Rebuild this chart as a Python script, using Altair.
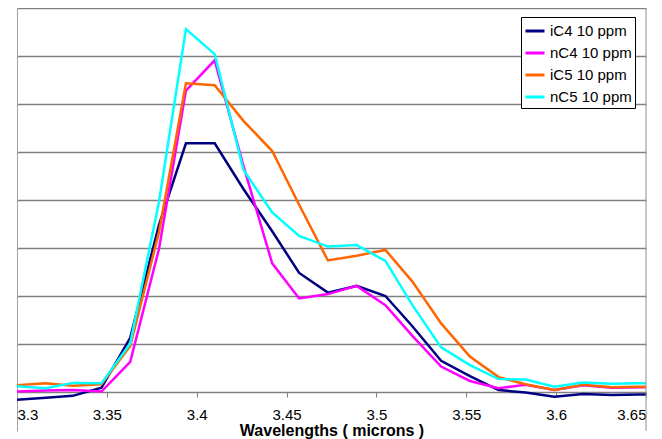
import altair as alt
import pandas as pd

wavelength = [3.300, 3.316, 3.331, 3.347, 3.363, 3.379, 3.394, 3.410, 3.426, 3.442,
              3.457, 3.473, 3.489, 3.505, 3.520, 3.536, 3.552, 3.568, 3.583, 3.599,
              3.615, 3.631, 3.646, 3.662]
ic4 = [-0.16, -0.12, -0.08, 0.09, 1.13, 3.48, 5.18, 5.18, 4.23, 3.35, 2.48, 2.07,
       2.21, 2.00, 1.37, 0.65, 0.33, 0.04, -0.01, -0.10, -0.04, -0.06, -0.05, -0.05]
nc4 = [0.01, 0.03, 0.04, 0.01, 0.63, 2.98, 6.28, 6.91, 4.71, 2.68, 1.95, 2.04,
       2.21, 1.81, 1.17, 0.53, 0.23, 0.08, 0.15, 0.04, 0.14, 0.09, 0.10, 0.10]
ic5 = [0.14, 0.18, 0.13, 0.16, 0.96, 3.33, 6.43, 6.39, 5.65, 5.02, 3.90, 2.74,
       2.84, 2.96, 2.30, 1.43, 0.74, 0.31, 0.16, 0.04, 0.15, 0.10, 0.11, 0.11]
nc5 = [0.12, 0.08, 0.19, 0.18, 1.01, 3.96, 7.56, 7.04, 4.63, 3.74, 3.25, 3.03,
       3.06, 2.73, 1.81, 0.93, 0.56, 0.27, 0.26, 0.11, 0.20, 0.17, 0.18, 0.18]

series_names = ["iC4 10 ppm", "nC4 10 ppm", "iC5 10 ppm", "nC5 10 ppm"]
series_colors = ["#000080", "#FF00FF", "#FF6600", "#00FFFF"]
x_ticks = [3.3, 3.35, 3.4, 3.45, 3.5, 3.55, 3.6, 3.65]
y_grid = [1, 2, 3, 4, 5, 6, 7, 8]

rows = []
for k, (name, vals) in enumerate(zip(series_names, [ic4, nc4, ic5, nc5])):
    for i, (w, v) in enumerate(zip(wavelength, vals)):
        rows.append({"series": name, "order": k, "wl": w, "val": v, "idx": i})
df = pd.DataFrame(rows)

W, H = 629, 423
FONT = "Liberation Sans"

xscale = alt.Scale(domain=[3.3, 3.65], nice=False, zero=False)
yscale = alt.Scale(domain=[-0.8125, 8], nice=False, zero=False)

lines = alt.Chart(df).mark_line(strokeWidth=2.5, clip=True).encode(
    x=alt.X("wl:Q", scale=xscale,
            axis=alt.Axis(values=x_ticks, format=".2~f", offset=-39,
                          domainColor="#808080", domainWidth=1.5,
                          tickColor="#808080", tickSize=5, tickWidth=1,
                          labelFont=FONT, labelFontSize=15, labelColor="black",
                          labelPadding=10, grid=False,
                          title="Wavelengths ( microns )", titleFont=FONT,
                          titleFontSize=16, titleFontWeight="bold",
                          titleColor="black", titleY=43,
                          titleBaseline="alphabetic")),
    y=alt.Y("val:Q", scale=yscale,
            axis=alt.Axis(values=y_grid, labels=False, ticks=False, title=None,
                          domainColor="#a0a0a0", domainWidth=1,
                          gridColor="#808080", gridWidth=1.5, gridOpacity=1)),
    color=alt.Color("series:N",
                    scale=alt.Scale(domain=series_names, range=series_colors),
                    legend=alt.Legend(title=None, orient="none",
                                      legendX=504, legendY=9,
                                      strokeColor="black", fillColor="white",
                                      padding=3, symbolType="stroke",
                                      symbolSize=361, symbolStrokeWidth=3,
                                      labelFont=FONT, labelFontSize=15,
                                      labelColor="black", labelOffset=4,
                                      rowPadding=3)),
    order=alt.Order("idx:Q"),
    detail="order:O",
)

right_border = alt.Chart(pd.DataFrame({"x": [3.65]})).mark_rule(
    color="#909090", strokeWidth=1).encode(
    x=alt.X("x:Q", scale=xscale),
    y=alt.value(0),
    y2=alt.value(H),
)

chart = alt.layer(lines, right_border).properties(
    width=W, height=H,
    autosize=alt.AutoSizeParams(type="none"),
    padding={"left": 9, "top": 0, "right": 8, "bottom": 10},
).configure_view(strokeWidth=0)

chart.save("out.html", embed_options={"renderer": "svg", "actions": False})
